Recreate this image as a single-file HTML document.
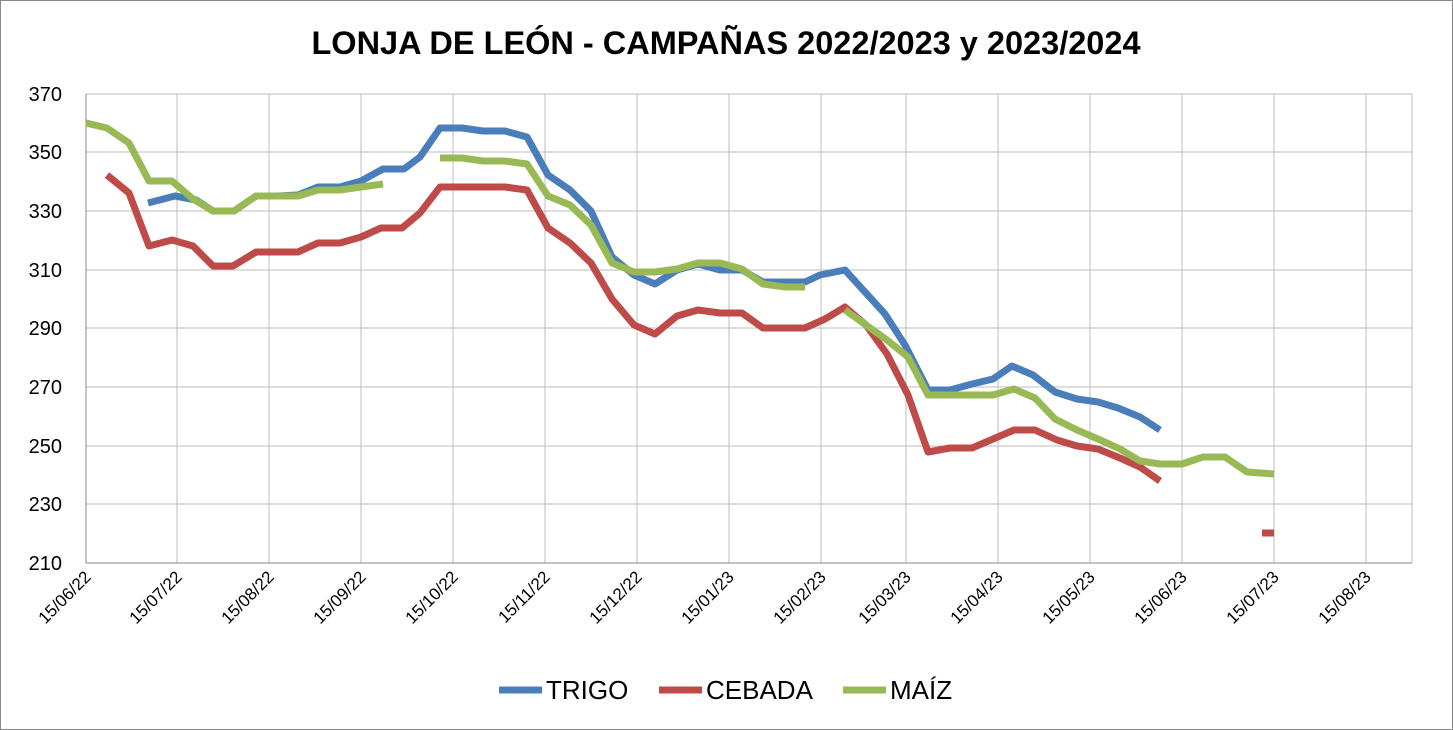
<!DOCTYPE html>
<html><head><meta charset="utf-8"><style>
html,body{margin:0;padding:0;background:#fff}
svg{display:block;font-family:"Liberation Sans",Arial,sans-serif}
</style></head><body>
<svg width="1453" height="730" viewBox="0 0 1453 730" xmlns="http://www.w3.org/2000/svg">
<rect x="0.5" y="0.5" width="1452" height="729" fill="#fff" stroke="#888" stroke-width="1"/>
<text x="726" y="54" text-anchor="middle" font-size="32.5" font-weight="bold" fill="#000">LONJA DE LEÓN - CAMPAÑAS 2022/2023 y 2023/2024</text>
<g stroke="#bdbdbd" stroke-width="1">
<line x1="86" y1="94" x2="1412" y2="94"/><line x1="86" y1="152" x2="1412" y2="152"/><line x1="86" y1="211" x2="1412" y2="211"/><line x1="86" y1="270" x2="1412" y2="270"/><line x1="86" y1="328" x2="1412" y2="328"/><line x1="86" y1="387" x2="1412" y2="387"/><line x1="86" y1="446" x2="1412" y2="446"/><line x1="86" y1="504" x2="1412" y2="504"/>
<line x1="177" y1="94" x2="177" y2="563"/><line x1="269" y1="94" x2="269" y2="563"/><line x1="361" y1="94" x2="361" y2="563"/><line x1="453" y1="94" x2="453" y2="563"/><line x1="545" y1="94" x2="545" y2="563"/><line x1="637" y1="94" x2="637" y2="563"/><line x1="729" y1="94" x2="729" y2="563"/><line x1="821" y1="94" x2="821" y2="563"/><line x1="906" y1="94" x2="906" y2="563"/><line x1="998" y1="94" x2="998" y2="563"/><line x1="1090" y1="94" x2="1090" y2="563"/><line x1="1182" y1="94" x2="1182" y2="563"/><line x1="1274" y1="94" x2="1274" y2="563"/><line x1="1366" y1="94" x2="1366" y2="563"/><line x1="1412" y1="94" x2="1412" y2="563"/>
</g>
<g stroke="#888" stroke-width="1"><line x1="86" y1="94" x2="86" y2="563"/><line x1="86" y1="563" x2="1412" y2="563"/></g>
<g font-size="20" fill="#000" text-anchor="end">
<text x="62" y="101">370</text><text x="62" y="159">350</text><text x="62" y="218">330</text><text x="62" y="277">310</text><text x="62" y="335">290</text><text x="62" y="394">270</text><text x="62" y="453">250</text><text x="62" y="511">230</text><text x="62" y="570">210</text>
</g>
<g font-size="17" fill="#000" text-anchor="end">
<text transform="translate(92,578) rotate(-45)">15/06/22</text>
<text transform="translate(183,578) rotate(-45)">15/07/22</text>
<text transform="translate(275,578) rotate(-45)">15/08/22</text>
<text transform="translate(367,578) rotate(-45)">15/09/22</text>
<text transform="translate(459,578) rotate(-45)">15/10/22</text>
<text transform="translate(551,578) rotate(-45)">15/11/22</text>
<text transform="translate(643,578) rotate(-45)">15/12/22</text>
<text transform="translate(735,578) rotate(-45)">15/01/23</text>
<text transform="translate(827,578) rotate(-45)">15/02/23</text>
<text transform="translate(912,578) rotate(-45)">15/03/23</text>
<text transform="translate(1004,578) rotate(-45)">15/04/23</text>
<text transform="translate(1096,578) rotate(-45)">15/05/23</text>
<text transform="translate(1188,578) rotate(-45)">15/06/23</text>
<text transform="translate(1280,578) rotate(-45)">15/07/23</text>
<text transform="translate(1372,578) rotate(-45)">15/08/23</text>
</g>
<g fill="none" stroke-width="7" stroke-linejoin="round" stroke-linecap="butt">
<polyline stroke="#4a7ebb" points="148,203 175,196 196,200 213,211 234,211 256,196 278,196 298,195 318,187 340,187 361,181 383,169 404,169 420,157 440,128 462,128 483,131 505,131 527,137 548,175 570,190 591,211 612,257 634,275 655,284 677,270 698,264 720,270 742,270 763,282 785,282 805,282 820,275 845,270 865,292 885,314 905,345 928,390 950,390 972,384 993,379 1012,366 1033,375 1055,392 1077,399 1098,402 1118,408 1140,417 1160,430"/>
<polyline stroke="#be4b48" points="107,175 129,193 149,246 172,240 193,246 213,266 233,266 256,252 278,252 298,252 318,243 340,243 361,237 381,228 402,228 420,213 440,187 462,187 483,187 505,187 527,190 548,228 570,243 591,263 612,299 634,325 655,334 677,316 698,310 720,313 742,313 763,328 785,328 805,328 825,319 845,307 866,325 887,354 908,395 928,452 950,448 972,448 993,439 1014,430 1035,430 1057,440 1077,446 1098,449 1120,458 1140,467 1160,481"/>
<line stroke="#be4b48" x1="1262" y1="533" x2="1274" y2="533"/>
<polyline stroke="#98b954" points="86,123 107,128 129,143 149,181 172,181 193,199 213,211 234,211 256,196 278,196 298,196 318,190 340,190 361,187 383,184"/>
<polyline stroke="#98b954" points="440,158 462,158 483,161 505,161 527,164 548,196 570,205 591,225 612,263 634,272 655,272 677,269 698,263 720,263 742,269 763,284 785,287 805,287"/>
<polyline stroke="#98b954" points="845,310 866,325 887,340 908,357 928,395 950,395 972,395 993,395 1014,389 1035,398 1055,419 1077,430 1098,439 1120,449 1140,461 1160,464 1182,464 1203,457 1225,457 1247,472 1274,474"/>
</g>
<g stroke-width="7">
<line x1="499" y1="690" x2="542" y2="690" stroke="#4a7ebb"/>
<line x1="659" y1="690" x2="702" y2="690" stroke="#be4b48"/>
<line x1="843" y1="690" x2="886" y2="690" stroke="#98b954"/>
</g>
<g font-size="26" fill="#000">
<text x="546" y="699">TRIGO</text><text x="706" y="699">CEBADA</text><text x="890" y="699">MAÍZ</text>
</g>
</svg>
</body></html>
